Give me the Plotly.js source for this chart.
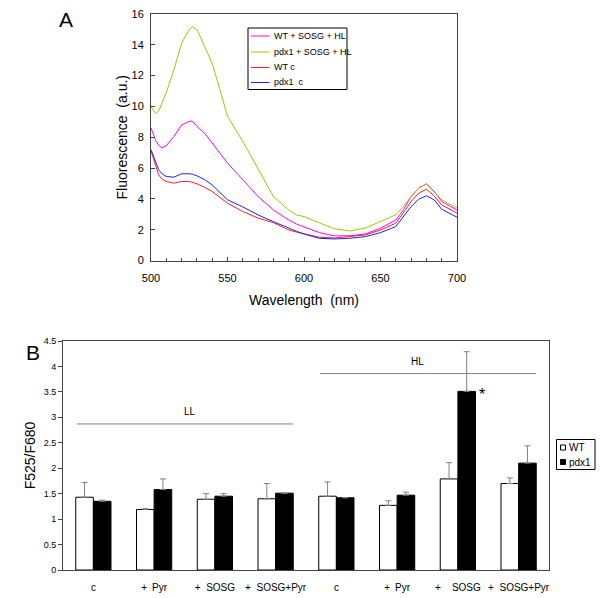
<!DOCTYPE html>
<html>
<head>
<meta charset="utf-8">
<script src="https://cdn.plot.ly/plotly-3.0.1.min.js"></script>
<style>body{margin:0;background:#fff}#chart{width:600px;height:598px}</style>
</head>
<body>
<div id="chart"></div>
<script>
// ---- Panel A: spectra ----
const wavelength = [500,503,505,507,510,515,520,525,527,530,535,540,545,550,560,570,580,590,595,600,610,620,630,640,650,660,665,670,675,680,685,690,700];
const pdx1SosgHL = [10.0,9.53,9.7,10.2,10.9,12.4,14.1,15.0,15.17,15.0,13.9,12.8,11.1,9.36,7.73,5.9,4.15,3.28,2.96,2.85,2.43,2.05,1.92,2.1,2.53,2.96,3.5,4.15,4.7,4.96,4.48,3.94,3.41];
const wtSosgHL   = [8.6,7.8,7.5,7.3,7.45,8.05,8.8,9.03,9.05,8.7,8.27,7.62,6.95,6.32,5.24,4.15,3.28,2.63,2.37,2.2,1.81,1.6,1.6,1.72,2.09,2.63,3.3,4.15,4.7,4.98,4.5,3.83,3.28];
const wtC        = [7.1,6.1,5.56,5.3,5.13,5.02,5.13,5.13,5.08,4.98,4.75,4.48,4.1,3.72,3.18,2.75,2.46,1.98,1.85,1.72,1.51,1.46,1.55,1.66,1.98,2.42,3.1,3.83,4.37,4.63,4.2,3.61,3.07];
const pdx1C      = [7.2,6.4,5.89,5.65,5.45,5.41,5.63,5.63,5.6,5.5,5.25,4.91,4.4,3.94,3.48,2.96,2.52,2.09,1.9,1.72,1.44,1.40,1.44,1.55,1.81,2.2,2.85,3.5,3.98,4.2,3.94,3.33,2.81];
const spectraNames = ['WT + SOSG + HL','pdx1 + SOSG + HL','WT c','pdx1\u00A0\u00A0c'];
const spectraColors = ['#ff00ff','#99cc00','#ff2020','#2020ff'];

// ---- Panel B: ratio bars ----
const conditions = ['c','+\u2002Pyr','+\u00A0\u00A0SOSG','+\u00A0\u00A0SOSG+Pyr','c','+\u2002Pyr','+\u00A0\u00A0\u00A0\u00A0SOSG','+\u00A0\u00A0SOSG+Pyr'];
const wtRatio   = [1.43,1.19,1.39,1.40,1.45,1.27,1.79,1.70];
const wtErr     = [0.29,0.02,0.11,0.30,0.28,0.09,0.32,0.11];
const pdx1Ratio = [1.35,1.58,1.45,1.51,1.42,1.47,3.51,2.10];
const pdx1Err   = [0.02,0.21,0.05,0.00,0.00,0.06,0.78,0.34];
const barNames  = ['WT','pdx1'];
const barColors = ['#ffffff','#000000'];
const lightGroups = [{label:'LL', first:0, last:3, level:2.87, labelX:1.59}, {label:'HL', first:4, last:7, level:3.86, labelX:5.33}];
const starIndex = 6;

const font = 'Liberation Sans, Arial, sans-serif';
const idx = conditions.map((_, i) => i);
const PX = x => x / 600, PY = y => 1 - y / 598;

const traces = [];
[wtSosgHL, pdx1SosgHL, wtC, pdx1C].forEach((ys, k) => {
  traces.push({type:'scatter', mode:'lines', x:wavelength, y:ys, name:spectraNames[k], showlegend:false,
    line:{color:spectraColors[k], width:1}, xaxis:'x', yaxis:'y'});
});
[[wtRatio, wtErr], [pdx1Ratio, pdx1Err]].forEach(([vals, err], k) => {
  traces.push({type:'bar', x:idx, y:vals, name:barNames[k], xaxis:'x2', yaxis:'y2', showlegend:false,
    marker:{color:barColors[k], line:{color:'#000', width:1}},
    error_y:{type:'data', symmetric:false, array:err, arrayminus:err.map(()=>0), color:'#808080', thickness:1, width:3}});
});

const shapes = lightGroups.map(g => ({type:'line', xref:'x2', yref:'y2', x0:g.first-0.27, x1:g.last+0.29, y0:g.level, y1:g.level,
  line:{color:'#808080', width:1}}));
const annotations = lightGroups.map(g => ({xref:'x2', yref:'y2', x:g.labelX, y:g.level, yshift:12, text:g.label,
  showarrow:false, font:{size:10, color:'#000', family:font}}));
annotations.push({xref:'x2', yref:'y2', x:starIndex, y:pdx1Ratio[starIndex], xshift:24, yshift:-3, text:'*', showarrow:false,
  font:{size:16, color:'#000', family:font}});
annotations.push({xref:'paper', yref:'paper', x:PX(66), y:PY(20), xanchor:'center', yanchor:'middle', text:'A', showarrow:false, font:{size:21, color:'#000', family:font}});
annotations.push({xref:'paper', yref:'paper', x:PX(33), y:PY(352), xanchor:'center', yanchor:'middle', text:'B', showarrow:false, font:{size:21, color:'#000', family:font}});

// legend A (custom, drawn in paper space)
shapes.push({type:'rect', xref:'paper', yref:'paper', x0:PX(248), x1:PX(347), y0:PY(28), y1:PY(89.5), line:{color:'#000', width:1}, fillcolor:'#fff', layer:'above'});
const legARows = [36, 52, 67.5, 82.5];
spectraNames.forEach((n, k) => {
  shapes.push({type:'line', xref:'paper', yref:'paper', x0:PX(251), x1:PX(269.5), y0:PY(legARows[k]), y1:PY(legARows[k]), line:{color:spectraColors[k], width:1}});
  annotations.push({xref:'paper', yref:'paper', x:PX(272), y:PY(legARows[k]), xanchor:'left', yanchor:'middle', text:n, showarrow:false, font:{size:9, color:'#000', family:font}});
});
// legend B
shapes.push({type:'rect', xref:'paper', yref:'paper', x0:PX(556.5), x1:PX(595), y0:PY(439.5), y1:PY(469.5), line:{color:'#000', width:1}, fillcolor:'#fff'});
const legBRows = [447.5, 462];
barNames.forEach((n, k) => {
  shapes.push({type:'rect', xref:'paper', yref:'paper', x0:PX(560.5), x1:PX(565.5), y0:PY(legBRows[k]-2.5), y1:PY(legBRows[k]+2.5), line:{color:'#000', width:1}, fillcolor:barColors[k]});
  annotations.push({xref:'paper', yref:'paper', x:PX(566.5), y:PY(legBRows[k]), xanchor:'left', yanchor:'middle', text:n, showarrow:false, font:{size:10, color:'#000', family:font}});
});

const layout = {
  width:600, height:598, margin:{l:0, r:0, t:0, b:0},
  paper_bgcolor:'#fff', plot_bgcolor:'#fff', font:{family:font, color:'#000'},
  showlegend:false, barmode:'group', bargap:0.42, bargroupgap:0,
  xaxis:{domain:[PX(151), PX(457)], range:[500,700], tickvals:[500,550,600,650,700], ticks:'inside', ticklen:4,
    minor:{dtick:10, ticks:'inside', ticklen:3, tickcolor:'#444'}, tickcolor:'#444',
    showline:true, linecolor:'#444', mirror:true, showgrid:false, zeroline:false, ticklabelstandoff:7,
    tickfont:{size:11}, title:{text:'Wavelength\u00A0\u00A0(nm)', font:{size:14}, standoff:12}},
  yaxis:{domain:[PY(260.5), PY(14)], range:[0,16], dtick:2, ticks:'inside', ticklen:4, tickcolor:'#444',
    showline:true, linecolor:'#444', mirror:true, showgrid:false, zeroline:false, ticklabelstandoff:4,
    tickfont:{size:11}, title:{text:'Fluorescence\u00A0\u00A0(a.u.)', font:{size:14}, standoff:0}},
  xaxis2:{domain:[PX(63), PX(549)], range:[-0.5,7.5], tickvals:idx, ticktext:conditions, ticks:'', anchor:'y2',
    showline:true, linecolor:'#444', mirror:true, showgrid:false, zeroline:false, ticklabelstandoff:8,
    tickfont:{size:10}},
  yaxis2:{domain:[PY(570), PY(341)], range:[0,4.5], dtick:0.5, ticks:'outside', ticklen:4, tickcolor:'#444', anchor:'x2',
    showline:true, linecolor:'#444', mirror:true, showgrid:false, zeroline:false, tickfont:{size:9},
    title:{text:'F525/F680', font:{size:14}, standoff:4}},
  shapes:shapes, annotations:annotations
};
Plotly.newPlot('chart', traces, layout, {displayModeBar:false, staticPlot:true});
</script>
</body>
</html>
